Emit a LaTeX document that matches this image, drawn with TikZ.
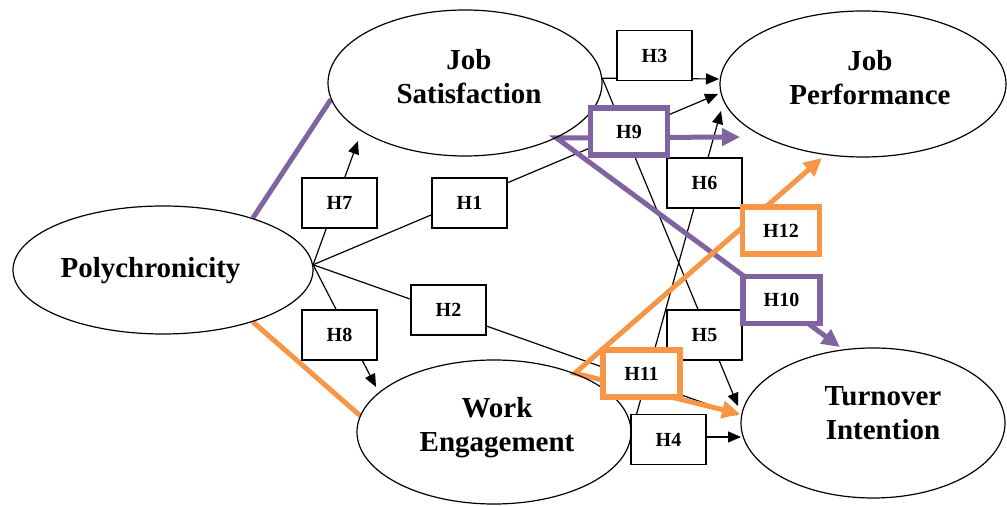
\documentclass[tikz,border=0pt]{standalone}
\usepackage{fontspec}
\setmainfont{Liberation Serif}
\usetikzlibrary{shapes.geometric,arrows.meta}
\definecolor{hpurple}{HTML}{8064A2}
\definecolor{horange}{HTML}{F79646}
\pgfdeclarelayer{back}
\pgfsetlayers{back,main}

\begin{document}
\begin{tikzpicture}[x=0.5pt,y=-0.5pt,
    construct/.style={ellipse,draw,line width=0.6pt,inner sep=0pt},
    ctext/.style={align=center,font=\fontsize{14.5}{17}\selectfont\bfseries},
    hyp/.style={draw,fill=white,line width=0.7pt,minimum width=37.5pt,minimum height=25pt,
      inner sep=0pt,font=\fontsize{10}{12}\selectfont\bfseries},
    hypc/.style={hyp,draw=#1,line width=2.8pt,minimum width=38.5pt,minimum height=23.5pt},
    link/.style={line width=0.6pt,arrows={-Triangle[length=6.5pt,width=5.5pt]}},
    medi/.style={draw=#1,line width=2.5pt},
    medtip/.style={arrows={Triangle[length=9pt,width=8.5pt]-Triangle[length=9pt,width=8.5pt]}}]
  \useasboundingbox (0,0) rectangle (1007,506);

  % constructs
  \node[construct,minimum width=150pt,minimum height=64pt,
    label={[ctext,shift={(-12.5,1)}]center:Polychronicity}] (poly) at (163,270) {};
  \node[construct,minimum width=137pt,minimum height=73pt,
    label={[ctext,shift={(4,-6)}]center:Job\\Satisfaction}] (js) at (465,83) {};
  \node[construct,minimum width=143pt,minimum height=73pt,
    label={[ctext,shift={(7,-6.5)}]center:Job\\Performance}] (jp) at (863,84) {};
  \node[construct,minimum width=137pt,minimum height=72pt,
    label={[ctext,shift={(3,-4.5)}]center:Work\\Engagement}] (we) at (494,432) {};
  \node[construct,minimum width=132pt,minimum height=75pt,
    label={[ctext,shift={(10,-9.5)}]center:Turnover\\Intention}] (ti) at (873,423) {};

  % hypotheses
  \node[hyp] (h1) at (469.5,203) {H1};
  \node[hyp] (h2) at (448.5,310) {H2};
  \node[hyp] (h3) at (654.5,55.5) {H3};
  \node[hyp] (h4) at (668.5,439.5) {H4};
  \node[hyp] (h5) at (704.5,335) {H5};
  \node[hyp] (h6) at (704.5,183) {H6};
  \node[hyp] (h7) at (339.5,203) {H7};
  \node[hyp] (h8) at (339.5,335) {H8};
  \node[hypc=hpurple] (h9) at (629,131.5) {H9};
  \node[hypc=hpurple] (h10) at (781.5,300) {H10};
  \node[hypc=horange] (h11) at (641.5,373.5) {H11};
  \node[hypc=horange] (h12) at (781,230.5) {H12};

  % arrow ends
  \coordinate (t1) at (718,94);
  \coordinate (t2) at (738,415);
  \coordinate (t3) at (719,79);
  \coordinate (t4) at (741,437);
  \coordinate (t5) at (738,406);
  \coordinate (t6) at (721,111);
  \coordinate (t7) at (358,141);
  \coordinate (t8) at (376,387);
  \coordinate (t9) at (740,137);
  \coordinate (t10) at (840,347);
  \coordinate (t11) at (740,414);
  \coordinate (t12) at (822,158);

  \begin{pgfonlayer}{back}
    % direct paths
    \draw[link] (poly.2) -- (t7);
    \draw[link] (poly.2) -- (t8);
    \draw[link] (poly.2) -- (t1);
    \draw[link] (poly.2) -- (t2);
    \draw[link] (js.2) -- (t3);
    \draw[link] (js.2) -- (t5);
    \draw[link] (we.east) -- (t6);
    \draw[link] (we.east |- t4) -- (t4);
    % mediated paths
    \draw[medi=hpurple] (poly.30) -- (js.187);
    \draw[medi=horange] (poly.-30) -- (we.173);
    \draw[medi=hpurple,medtip] (t9) -- (js.329) -- (t10);
    \draw[medi=horange,medtip] (t12) -- (we.36) -- (t11);
  \end{pgfonlayer}
\end{tikzpicture}
\end{document}
